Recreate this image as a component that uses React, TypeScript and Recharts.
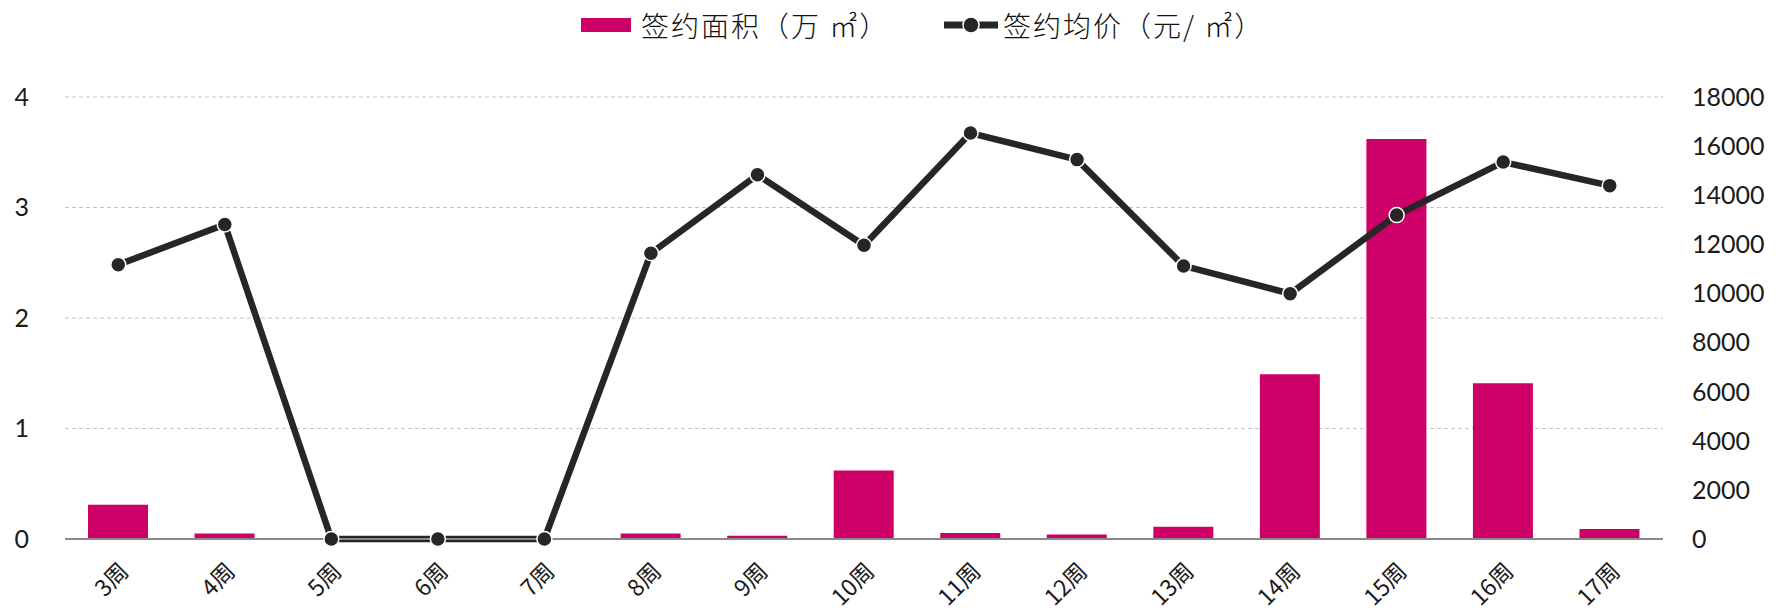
import {
  ComposedChart,
  Bar,
  Line,
  XAxis,
  YAxis,
  CartesianGrid,
  Legend,
} from "recharts";

const weeks = [
  "3周", "4周", "5周", "6周", "7周", "8周", "9周", "10周",
  "11周", "12周", "13周", "14周", "15周", "16周", "17周",
];
// 签约面积（万㎡）
const areaValues = [0.31, 0.05, 0, 0, 0, 0.05, 0.03, 0.62, 0.055, 0.04, 0.11, 1.49, 3.62, 1.41, 0.09];
// 签约均价（元/㎡）
const priceValues = [11170, 12810, 0, 0, 0, 11640, 14830, 11960, 16530, 15450, 11120, 9990, 13190, 15350, 14390];

const leftTicks = [0, 1, 2, 3, 4];
const rightTicks = [0, 2000, 4000, 6000, 8000, 10000, 12000, 14000, 16000, 18000];

const BAR_COLOR = "#CC0066";
const LINE_COLOR = "#262626";
const NUM_FONT = "Lato, 'Noto Sans', sans-serif";
const CJK_FONT = "'Noto Sans CJK SC', 'Noto Sans', sans-serif";

const data = weeks.map((week, i) => ({
  week,
  area: areaValues[i],
  price: priceValues[i],
}));

// rotated week labels under the axis
function WeekTick({ x, y, payload }: any) {
  return (
    <g transform={`translate(${x},${y})`}>
      <text
        x={0}
        y={0}
        dy="0.72em"
        textAnchor="end"
        transform="rotate(-45)"
        fontSize={23}
        fontFamily={CJK_FONT}
        fill="#1a1a1a"
      >
        {payload.value}
      </text>
    </g>
  );
}

function ChartLegend() {
  const cy = 25;
  const textStyle = { letterSpacing: 2 };
  return (
    <svg width={1784} height={50} style={{ display: "block" }}>
      <rect x={581} y={cy - 7} width={50} height={14} fill={BAR_COLOR} />
      <text
        x={641}
        y={cy}
        dominantBaseline="central"
        fontSize={28}
        fontFamily={CJK_FONT}
        fontWeight={300}
        fill="#111"
        style={textStyle}
      >
        签约面积（万 ㎡）
      </text>
      <line x1={944} x2={998} y1={cy} y2={cy} stroke={LINE_COLOR} strokeWidth={7} />
      <circle cx={971} cy={cy} r={8} fill={LINE_COLOR} stroke="#fff" strokeWidth={1.5} />
      <text
        x={1003}
        y={cy}
        dominantBaseline="central"
        fontSize={28}
        fontFamily={CJK_FONT}
        fontWeight={300}
        fill="#111"
        style={textStyle}
      >
        签约均价（元/ ㎡）
      </text>
    </svg>
  );
}

export default function App() {
  return (
    <div
      style={{
        position: "absolute",
        left: 0,
        top: 0,
        width: 1784,
        height: 612,
        background: "#fff",
      }}
    >
      <ComposedChart
        width={1784}
        height={612}
        data={data}
        margin={{ top: 97, right: 0, bottom: 0, left: 0 }}
        barCategoryGap={0}
      >
        <CartesianGrid
          yAxisId="left"
          vertical={false}
          stroke="#c4c4c4"
          strokeDasharray="4 3"
        />
        <XAxis
          dataKey="week"
          interval={0}
          height={73}
          tickLine={false}
          tickSize={0}
          tickMargin={22}
          axisLine={{ stroke: "#898989", strokeWidth: 2 }}
          tick={<WeekTick />}
        />
        <YAxis
          yAxisId="left"
          orientation="left"
          width={65}
          domain={[0, 4]}
          ticks={leftTicks}
          axisLine={false}
          tickLine={false}
          tickSize={0}
          tickMargin={36}
          tick={{ fontSize: 25, fill: "#1a1a1a", fontFamily: NUM_FONT }}
        />
        <YAxis
          yAxisId="right"
          orientation="right"
          width={121}
          domain={[0, 18000]}
          ticks={rightTicks}
          axisLine={false}
          tickLine={false}
          tickSize={0}
          tickMargin={29}
          tick={{ fontSize: 25, fill: "#1a1a1a", fontFamily: NUM_FONT }}
        />
        <Legend
          layout="horizontal"
          verticalAlign="middle"
          align="center"
          wrapperStyle={{ top: 0, left: 0, width: 1784 }}
          content={() => <ChartLegend />}
        />
        <Bar
          yAxisId="left"
          dataKey="area"
          name="签约面积（万㎡）"
          fill={BAR_COLOR}
          barSize={60}
          isAnimationActive={false}
        />
        <Line
          yAxisId="right"
          type="linear"
          dataKey="price"
          name="签约均价（元/㎡）"
          stroke={LINE_COLOR}
          strokeWidth={6.5}
          dot={{ r: 7.5, fill: LINE_COLOR, stroke: "#fff", strokeWidth: 1.5 }}
          isAnimationActive={false}
        />
      </ComposedChart>
    </div>
  );
}
